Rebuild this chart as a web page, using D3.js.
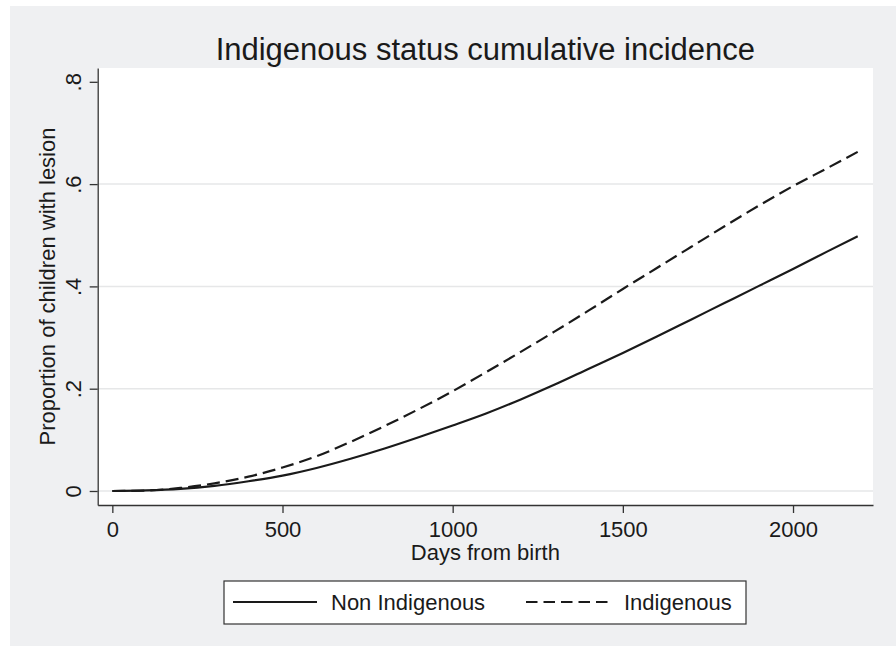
<!DOCTYPE html>
<html>
<head>
<meta charset="utf-8">
<script src="https://cdn.jsdelivr.net/npm/d3@7"></script>
<style>
  body { margin: 0; background: #fff; }
  text { font-family: "Liberation Sans", Arial, Helvetica, sans-serif; fill: #1a1a1a; }
</style>
</head>
<body>
<div class="chart"></div>
<script>
// Cumulative incidence by indigenous status
var days = [0, 100, 200, 300, 400, 500, 600, 700, 800, 900, 1000, 1100, 1200,
            1300, 1400, 1500, 1600, 1700, 1800, 1900, 2000, 2100, 2190];
var nonIndigenous = [0, 0.001, 0.004, 0.010, 0.019, 0.030, 0.045, 0.063, 0.083, 0.105,
                     0.128, 0.152, 0.179, 0.208, 0.239, 0.270, 0.302, 0.335, 0.368,
                     0.401, 0.434, 0.468, 0.498];
var indigenous = [0, 0.001, 0.006, 0.015, 0.028, 0.046, 0.068, 0.096, 0.127, 0.160,
                  0.195, 0.233, 0.272, 0.312, 0.353, 0.395, 0.436, 0.477, 0.518,
                  0.558, 0.596, 0.631, 0.663];
var xTicks = [0, 500, 1000, 1500, 2000];
var yTicks = [0, 0.2, 0.4, 0.6, 0.8];
var yTickLabels = ["0", ".2", ".4", ".6", ".8"];
var seriesNames = ["Non Indigenous", "Indigenous"];

var svgWidth = 896;
var svgHeight = 646;
var plot = {left: 97.7, right: 873, top: 68, bottom: 505};
var fontSize = "22px";

var svg = d3.select(".chart")
  .append("svg")
  .attr("width", svgWidth)
  .attr("height", svgHeight);

// outer gray background (Stata-style)
svg.append("rect")
  .attr("x", 10).attr("y", 6)
  .attr("width", svgWidth - 10).attr("height", svgHeight - 6)
  .attr("fill", "#eff0f2");

// plot region
svg.append("rect")
  .attr("x", plot.left).attr("y", plot.top)
  .attr("width", plot.right - plot.left).attr("height", plot.bottom - plot.top)
  .attr("fill", "#fff");

var x = d3.scaleLinear().domain([-43, 2235]).range([plot.left, plot.right]);
var y = d3.scaleLinear().domain([-0.0274, 0.827]).range([plot.bottom, plot.top]);

// gridlines (none at the top tick)
svg.append("g")
  .selectAll("line")
  .data(yTicks.slice(0, 4))
  .enter()
  .append("line")
  .attr("x1", plot.left).attr("x2", plot.right)
  .attr("y1", function(d) { return y(d); })
  .attr("y2", function(d) { return y(d); })
  .attr("stroke", "#e6e7e8")
  .attr("stroke-width", 1.5);

// x axis
var bottomAxis = d3.axisBottom(x).tickValues(xTicks).tickSize(8).tickPadding(8)
  .tickSizeOuter(0).tickFormat(d3.format("d"));
var gx = svg.append("g")
  .attr("transform", "translate(0," + plot.bottom + ")")
  .call(bottomAxis);
gx.select(".domain").attr("stroke", "#333").attr("stroke-width", 1.3);
gx.selectAll(".tick line").attr("stroke", "#333").attr("stroke-width", 1.3);
gx.selectAll(".tick text")
  .style("font-size", fontSize)
  .style("font-family", "'Liberation Sans', Arial, sans-serif")
  .attr("fill", "#1a1a1a");

// y axis with rotated labels
var leftAxis = d3.axisLeft(y).tickValues(yTicks).tickSize(8).tickSizeOuter(0)
  .tickFormat(function(d, i) { return yTickLabels[i]; });
var gy = svg.append("g")
  .attr("transform", "translate(" + plot.left + ",0)")
  .call(leftAxis);
gy.select(".domain").attr("stroke", "#333").attr("stroke-width", 1.3);
gy.selectAll(".tick line").attr("stroke", "#333").attr("stroke-width", 1.3);
gy.selectAll(".tick text")
  .attr("x", 0).attr("dy", 0)
  .attr("transform", "translate(-17,0) rotate(-90)")
  .attr("text-anchor", "middle")
  .style("font-size", fontSize)
  .style("font-family", "'Liberation Sans', Arial, sans-serif")
  .attr("fill", "#1a1a1a");

// lines
var line = d3.line()
  .x(function(d, i) { return x(days[i]); })
  .y(function(d) { return y(d); })
  .curve(d3.curveMonotoneX);

svg.append("path")
  .datum(nonIndigenous)
  .attr("d", line)
  .attr("fill", "none")
  .attr("stroke", "#1a1a1a")
  .attr("stroke-width", 2.2);

svg.append("path")
  .datum(indigenous)
  .attr("d", line)
  .attr("fill", "none")
  .attr("stroke", "#1a1a1a")
  .attr("stroke-width", 2.2)
  .attr("stroke-dasharray", "13,6");

// titles
svg.append("text")
  .attr("x", (plot.left + plot.right) / 2).attr("y", 60)
  .attr("text-anchor", "middle")
  .style("font-size", "31px")
  .text("Indigenous status cumulative incidence");

svg.append("text")
  .attr("x", (plot.left + plot.right) / 2).attr("y", 560)
  .attr("text-anchor", "middle")
  .style("font-size", fontSize)
  .text("Days from birth");

svg.append("text")
  .attr("transform", "translate(55," + (plot.top + plot.bottom) / 2 + ") rotate(-90)")
  .attr("text-anchor", "middle")
  .style("font-size", fontSize)
  .text("Proportion of children with lesion");

// legend
var legend = svg.append("g");
legend.append("rect")
  .attr("x", 224).attr("y", 581)
  .attr("width", 522).attr("height", 43)
  .attr("fill", "#fff")
  .attr("stroke", "#333")
  .attr("stroke-width", 1.2);

legend.append("line")
  .attr("x1", 233).attr("x2", 317).attr("y1", 602).attr("y2", 602)
  .attr("stroke", "#1a1a1a").attr("stroke-width", 2);
legend.append("text")
  .attr("x", 331).attr("y", 610)
  .style("font-size", fontSize)
  .text(seriesNames[0]);

legend.append("line")
  .attr("x1", 526).attr("x2", 609).attr("y1", 602).attr("y2", 602)
  .attr("stroke", "#1a1a1a").attr("stroke-width", 2)
  .attr("stroke-dasharray", "11.5,6");
legend.append("text")
  .attr("x", 624).attr("y", 610)
  .style("font-size", fontSize)
  .text(seriesNames[1]);
</script>
</body>
</html>
